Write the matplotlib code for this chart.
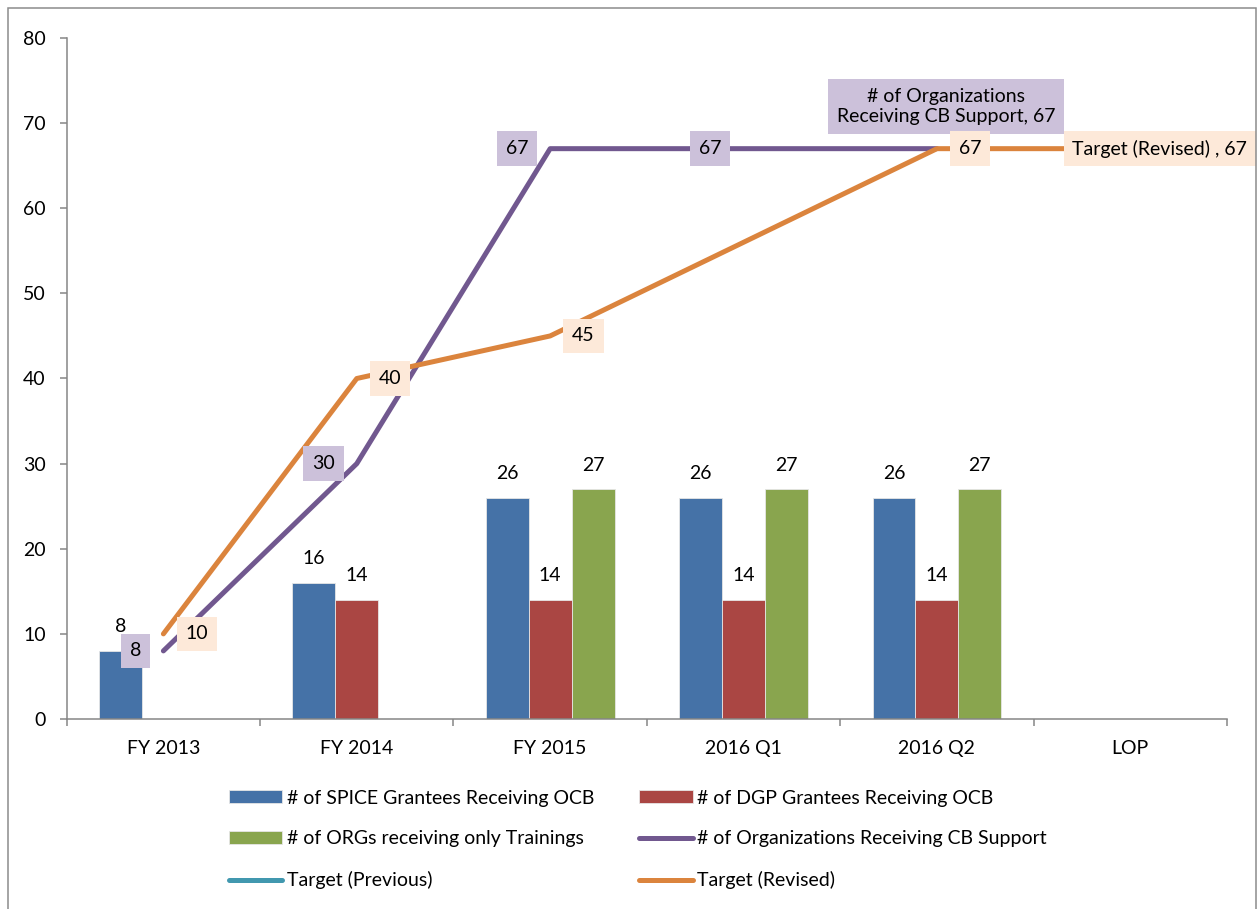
import numpy as np
import matplotlib.pyplot as plt
from matplotlib.patches import Rectangle
from matplotlib.lines import Line2D

plt.rcParams['font.family'] = ['Lato', 'DejaVu Sans']

categories = ['FY 2013', 'FY 2014', 'FY 2015', '2016 Q1', '2016 Q2', 'LOP']
spice = [8, 16, 26, 26, 26, np.nan]
dgp = [np.nan, 14, 14, 14, 14, np.nan]
orgs_training = [np.nan, np.nan, 27, 27, 27, np.nan]
orgs_cb = [8, 30, 67, 67, 67, np.nan]
target_prev = [np.nan] * 6
target_rev = [10, 40, 45, np.nan, 67, 67]

bar_names = ['# of SPICE Grantees Receiving OCB', '# of DGP Grantees Receiving OCB',
             '# of ORGs receiving only Trainings']
line_names = ['# of Organizations Receiving CB Support', 'Target (Previous)', 'Target (Revised)']

c_blue, c_red, c_green = '#4572A7', '#AA4643', '#89A54E'
c_purple, c_teal, c_orange = '#71588F', '#4198AF', '#DB843D'
box_purple, box_orange = '#CCC1DA', '#FDE9D9'
fs = 14

fig = plt.figure(figsize=(12.58, 9.09), dpi=100)
# outer chart border
fig.patches.append(Rectangle((8 / 1258, -0.05), 1248 / 1258, 1.05 - 8 / 909,
                             transform=fig.transFigure, fill=False,
                             edgecolor='#8C8C8C', lw=1.1))
ax = fig.add_axes([66.7 / 1258, 1 - 719 / 909, (1227 - 66.7) / 1258, (719 - 38) / 909])

x = np.arange(len(categories))
w = 0.222
bars = []
for k, (vals, col) in enumerate(zip([spice, dgp, orgs_training], [c_blue, c_red, c_green])):
    b = ax.bar(x + (k - 1) * w, vals, w, color=col, edgecolor='#E6E6E6', lw=0.6, zorder=2)
    bars.append(b)
    for xi, v in zip(x + (k - 1) * w, vals):
        if not np.isnan(v):
            ax.annotate(f'{v:g}', (xi, v), xytext=(0, 24), textcoords='offset pixels',
                        ha='center', va='center', fontsize=fs, color='black', zorder=3)


def draw_line(vals, col):
    v = np.array(vals, dtype=float)
    ok = ~np.isnan(v)
    return ax.plot(x[ok], v[ok], color=col, lw=3.6, solid_capstyle='round', zorder=4)[0]


l_cb = draw_line(orgs_cb, c_purple)
l_prev = draw_line(target_prev, c_teal)
l_rev = draw_line(target_rev, c_orange)

boxkw = dict(boxstyle='square,pad=0.45', lw=0)
# data labels for the line series: (index, dx, dy, ha, text)
cb_labels = [(0, -22, 0, 'right', None), (1, -22, 0, 'right', None), (2, -22, 0, 'right', None),
             (3, -22, 0, 'right', None), (4, 9, 42, 'center', '# of Organizations\nReceiving CB Support')]
rev_labels = [(0, 22, 0, 'left', None), (1, 22, 0, 'left', None), (2, 22, 0, 'left', None),
              (4, 22, 0, 'left', None), (5, -58, 0, 'left', 'Target (Revised) ')]
for vals, labs, fc in [(orgs_cb, cb_labels, box_purple), (target_rev, rev_labels, box_orange)]:
    for i, dx, dy, ha, name in labs:
        txt = f'{vals[i]:g}' if name is None else f'{name}, {vals[i]:g}'
        ax.annotate(txt, (x[i], vals[i]), xytext=(dx, dy), textcoords='offset pixels',
                    ha=ha, va='center', fontsize=fs, linespacing=1.25,
                    bbox=dict(fc=fc, **boxkw), zorder=5)

ax.set_xlim(-0.5, len(categories) - 0.5)
ax.set_ylim(0, 80)
ax.set_yticks(np.arange(0, 81, 10))
ax.set_xticks(x)
ax.set_xticklabels(categories)
ax.set_xticks(np.arange(-0.5, len(categories), 1), minor=True)
ax.tick_params(axis='x', which='major', length=0, pad=15, labelsize=fs)
ax.tick_params(axis='x', which='minor', length=5, width=1.1, color='#868686')
ax.tick_params(axis='y', length=5, width=1.1, color='#868686', pad=10, labelsize=fs)
for s in ['top', 'right']:
    ax.spines[s].set_visible(False)
for s in ['left', 'bottom']:
    ax.spines[s].set_color('#868686')
    ax.spines[s].set_linewidth(1.1)

handles = [bars[0], bars[2], Line2D([], [], color=c_teal, lw=3.6, solid_capstyle='round'),
           bars[1], Line2D([], [], color=c_purple, lw=3.6, solid_capstyle='round'),
           Line2D([], [], color=c_orange, lw=3.6, solid_capstyle='round')]
labels = [bar_names[0], bar_names[2], line_names[1], bar_names[1], line_names[0], line_names[2]]
fig.legend(handles, labels, ncol=2, frameon=False, fontsize=fs,
           loc='upper left', bbox_to_anchor=(219 / 1258, 1 - 780 / 909),
           handlelength=2.75, handleheight=0.65, handletextpad=0.25,
           labelspacing=1.22, columnspacing=2.3, borderpad=0)

fig.savefig('out.png', dpi=100)
